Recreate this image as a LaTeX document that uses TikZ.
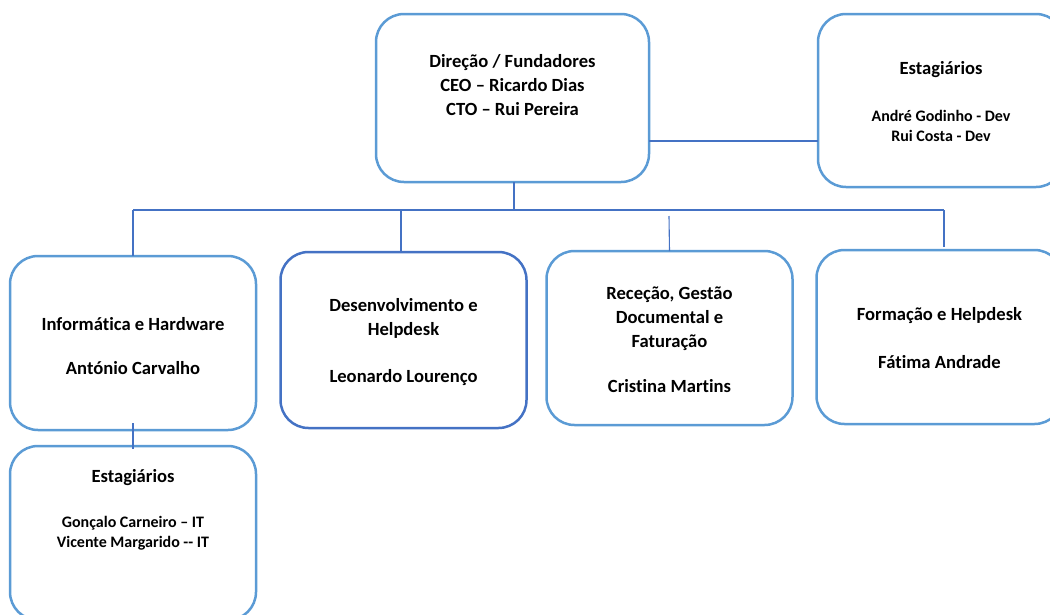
\documentclass[tikz,border=0pt]{standalone}
\usepackage{fontspec}
\setmainfont{Carlito}[Ligatures=NoCommon]
\usetikzlibrary{calc}
\definecolor{boxblue}{RGB}{91,155,213}
\definecolor{darkblue}{RGB}{68,114,196}
\definecolor{lineblue}{RGB}{68,114,196}
\tikzset{
  orgbox/.style={draw=boxblue, line width=2.5pt, rounded corners=28pt, rectangle, inner sep=0pt, outer sep=0pt, minimum width=246pt, minimum height=174pt},
  devbox/.style={orgbox, draw=darkblue},
  txt/.style={align=center, font=\bfseries\fontsize{18.6}{24}\selectfont, inner sep=0pt},
  smalltxt/.style={align=center, font=\bfseries\fontsize{16}{20.5}\selectfont, inner sep=0pt},
  conn/.style={draw=lineblue, line width=1.1pt}
}
\begin{document}
\begin{tikzpicture}[x=1pt,y=-1pt]
\useasboundingbox (0,0) rectangle (1050,614);
\clip (0,0) rectangle (1050,614);
% boxes
\node[orgbox, minimum width=273pt, minimum height=168pt] (top) at (512.5,98) {};
\node[orgbox, minimum height=173pt] (est1) at (941,100.5) {};
\node[orgbox] (info) at (133,343) {};
\node[devbox, minimum height=176pt] (dev) at (403.5,340) {};
\node[orgbox] (rec) at (669.5,338) {};
\node[orgbox] (form) at (939.5,337) {};
\node[orgbox] (est2) at (133,533) {};
% texts
\node[txt] (ttop) at (512.5,85.5) {Direção / Fundadores\\CEO – Ricardo Dias\\CTO – Rui Pereira};
\node[txt] (test1a) at (941,70) {Estagiários};
\node[smalltxt] (test1b) at (941,126) {André Godinho - Dev\\Rui Costa - Dev};
\node[txt] (tinfo) at (133,346) {Informática e Hardware\\[20pt]António Carvalho};
\node[txt] (tdev) at (403.5,342) {Desenvolvimento e\\Helpdesk\\[23pt]Leonardo Lourenço};
\node[txt] (trec) at (669.5,340) {Receção, Gestão\\Documental e\\Faturação\\[21pt]Cristina Martins};
\node[txt] (tform) at (939.5,338) {Formação e Helpdesk\\[24pt]Fátima Andrade};
\node[txt] (test2a) at (133,478) {Estagiários};
\node[smalltxt] (test2b) at (133,533) {Gonçalo Carneiro – IT\\Vicente Margarido -{}- IT};
% connectors
\coordinate (bus) at (0,210);
\coordinate (hline) at (0,141);
\draw[conn] (top.south -| 514,0) -- (514,210);
\draw[conn] (info.north |- bus) -- (944,210);
\draw[conn] (info.north |- bus) -- (info.north);
\draw[conn] (dev.north -| 401,0) -- (401,210);
\draw[conn] (669,216) -- (rec.north);
\draw[conn] (944,210) -- (944,247);
\draw[conn] (top.east |- hline) -- (est1.west |- hline);
\draw[conn, shorten <=-7pt, shorten >=-3pt] (info.south) -- (est2.north);
\end{tikzpicture}
\end{document}
